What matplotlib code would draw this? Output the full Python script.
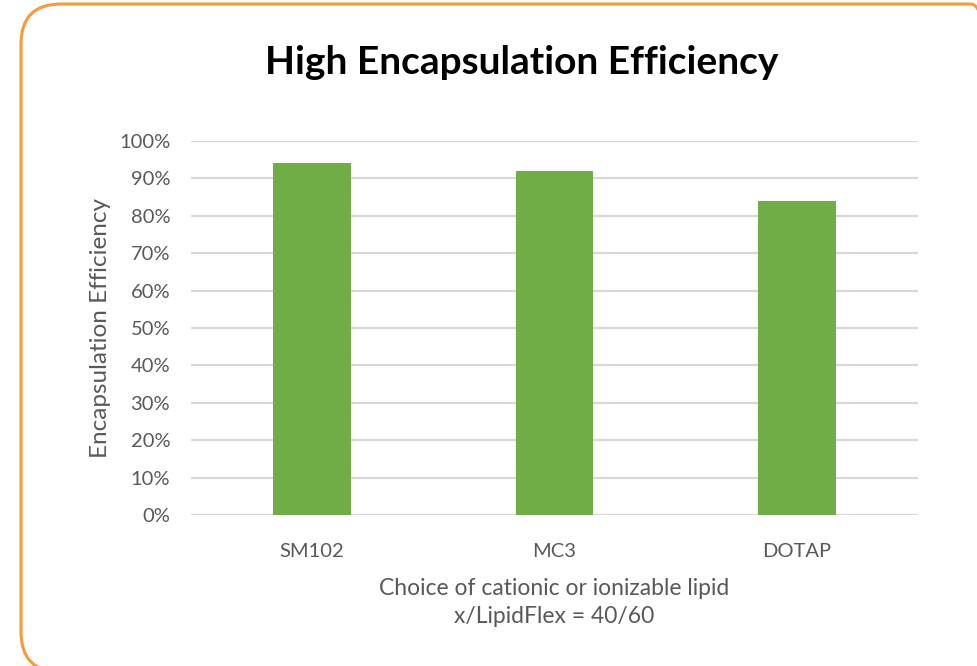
import matplotlib.pyplot as plt
from matplotlib.patches import FancyBboxPatch
from matplotlib.ticker import PercentFormatter
from matplotlib.transforms import IdentityTransform

# Encapsulation efficiency per cationic / ionizable lipid
lipids = ["SM102", "MC3", "DOTAP"]
efficiency = [0.94, 0.92, 0.84]

BAR_COLOR = "#70AD47"
TEXT_GREY = "#595959"
GRID_GREY = "#D9D9D9"
BORDER = "#F79A3A"

plt.rcParams["font.family"] = ["Lato", "DejaVu Sans"]

fig = plt.figure(figsize=(9.77, 6.66), dpi=100)
ax = fig.add_axes([191 / 977, 1 - 515 / 666, 727 / 977, 374 / 666])

x = range(len(lipids))
ax.bar(x, efficiency, width=0.32, color=BAR_COLOR, zorder=3)

ax.set_xlim(-0.5, len(lipids) - 0.5)
ax.set_ylim(0, 1)
ax.set_yticks([i / 10 for i in range(11)])
ax.yaxis.set_major_formatter(PercentFormatter(1.0, decimals=0))
ax.set_xticks(list(x))
ax.set_xticklabels(lipids)

ax.grid(axis="y", color=GRID_GREY, linewidth=1.6, zorder=0)
for side in ["top", "right", "left", "bottom"]:
    ax.spines[side].set_visible(False)
ax.tick_params(length=0, labelsize=14.5, labelcolor=TEXT_GREY)
ax.tick_params(axis="y", pad=15)
ax.tick_params(axis="x", pad=20)

ax.set_ylabel("Encapsulation Efficiency", fontsize=17.5, color=TEXT_GREY, labelpad=6)
ax.set_xlabel("Choice of cationic or ionizable lipid\nx/LipidFlex = 40/60",
              fontsize=16.5, color=TEXT_GREY, labelpad=13, linespacing=1.4)

fig.text(522 / 977, 1 - 63 / 666, "High Encapsulation Efficiency",
         ha="center", va="center", fontsize=28, fontweight="bold", color="black")

# rounded orange frame around the chart area, in pixel units
frame = FancyBboxPatch((21, -6), 990, 668,
                       boxstyle="round,pad=0,rounding_size=40",
                       transform=IdentityTransform(), fill=False,
                       edgecolor=BORDER, linewidth=2.2, zorder=10)
fig.patches.append(frame)

fig.savefig("out.png", dpi=100)
